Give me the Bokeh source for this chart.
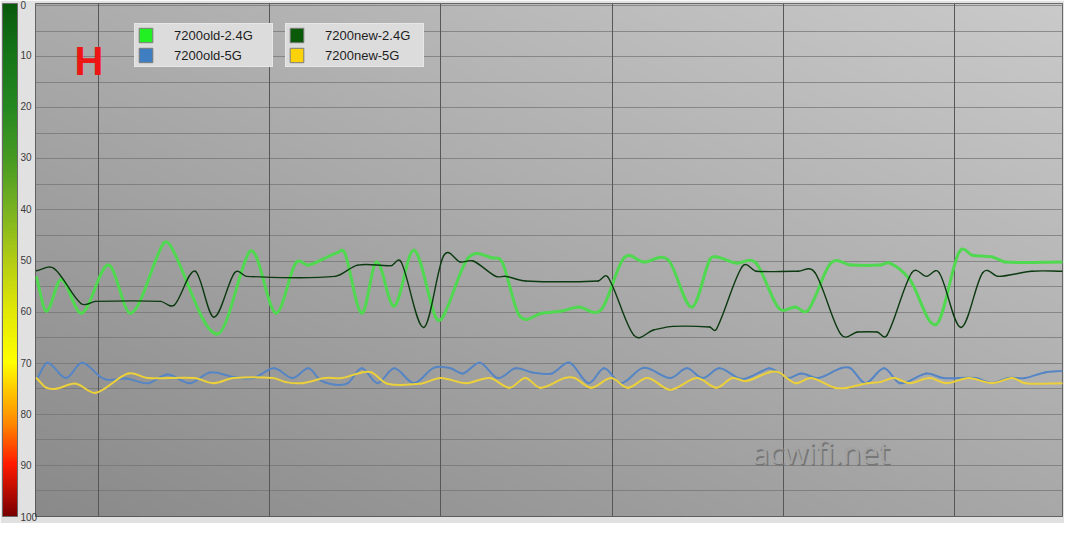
import numpy as np
from bokeh.plotting import figure
from bokeh.models import (Range1d, Grid, FixedTicker, ColorBar, LinearColorMapper,
                          Legend, LegendItem, ColumnDataSource, Label)
from bokeh.embed import file_html
from bokeh.resources import INLINE

# ---------------- data (t = sample position, level: 0 = top, 100 = bottom) ----------------
series_names = ["7200old-2.4G", "7200old-5G", "7200new-2.4G", "7200new-5G"]

old24_t = [1, 11, 26, 47, 74, 97, 129, 137, 184, 216, 224, 244, 264, 277, 307, 314, 331, 346, 364, 384,
           406, 414, 439, 464, 474, 491, 514, 534, 551, 574, 597, 617, 642, 666, 684, 691, 711, 731, 754, 771,
           784, 807, 827, 857, 867, 887, 914, 937, 951, 971, 984, 1042]
old24_v = [53.2, 59.8, 53.6, 60.2, 50.8, 60.2, 46.8, 47.0, 64.3, 48.5, 49.2, 60.2, 50.4, 50.8, 48.3, 48.5, 60.2, 50.2, 58.8, 47.9,
           61.0, 60.7, 49.4, 49.4, 50.4, 60.7, 60.2, 59.8, 59.0, 59.5, 49.4, 50.2, 49.8, 59.0, 49.8, 49.2, 50.4, 50.4, 59.2, 59.0,
           59.6, 50.4, 50.8, 50.8, 50.4, 53.6, 62.4, 48.3, 48.9, 49.2, 50.2, 50.2]

new24_t = [1, 19, 46, 61, 127, 141, 162, 181, 202, 214, 304, 327, 361, 371, 394, 414, 431, 444, 467, 477,
           497, 571, 581, 607, 627, 647, 684, 691, 717, 731, 774, 791, 817, 834, 854, 864, 889, 904, 917, 939,
           961, 977, 1011, 1042]
new24_v = [51.9, 51.5, 58.3, 57.9, 57.9, 58.6, 52.0, 61.0, 52.3, 53.0, 53.0, 50.8, 50.9, 50.2, 63.0, 49.0, 50.2, 50.0, 53.0, 53.0,
           53.9, 53.9, 53.2, 64.5, 63.5, 62.8, 62.9, 63.3, 51.1, 52.0, 52.0, 52.3, 64.3, 63.9, 63.9, 64.5, 52.3, 53.0, 52.3, 63.0,
           52.3, 53.0, 52.0, 52.0]

old5_t = [2, 12, 31, 47, 66, 74, 92, 114, 134, 157, 177, 201, 221, 242, 261, 277, 289, 304, 317, 331,
          347, 364, 384, 404, 421, 434, 451, 469, 487, 504, 524, 542, 561, 577, 594, 617, 644, 661, 677, 694,
          717, 744, 751, 764, 777, 794, 817, 827, 842, 861, 877, 904, 921, 954, 971, 987, 1004, 1024, 1042]
old5_v = [72.9, 69.9, 72.9, 69.9, 72.7, 73.3, 73.0, 73.9, 72.2, 73.9, 71.8, 72.7, 72.9, 71.0, 72.9, 71.0, 73.3, 74.2, 73.9, 71.0,
          73.9, 71.0, 73.9, 70.9, 71.0, 72.0, 69.9, 72.9, 71.0, 71.8, 72.0, 69.9, 73.9, 71.0, 73.9, 70.9, 72.9, 71.0, 72.9, 71.0,
          73.1, 71.0, 71.5, 72.9, 72.0, 72.9, 71.0, 71.0, 73.9, 71.0, 73.9, 72.0, 72.9, 72.9, 73.9, 72.9, 72.9, 71.8, 71.5]

new5_t = [1, 11, 21, 41, 61, 94, 114, 161, 181, 201, 241, 254, 271, 294, 311, 331, 341, 357, 391, 411,
          437, 461, 481, 497, 512, 537, 547, 564, 584, 601, 621, 644, 671, 691, 707, 721, 744, 754, 771, 787,
          811, 824, 844, 857, 871, 887, 907, 924, 947, 971, 991, 1004, 1042]
new5_v = [72.9, 74.8, 75.0, 74.0, 75.8, 72.0, 72.9, 72.9, 73.9, 72.9, 72.9, 73.7, 73.9, 72.9, 72.9, 71.8, 71.8, 74.0, 74.0, 72.9,
          73.9, 72.9, 74.8, 72.9, 74.8, 72.9, 72.9, 74.8, 72.9, 74.8, 72.9, 75.2, 72.9, 74.8, 72.9, 73.5, 71.8, 71.8, 73.9, 72.9,
          74.8, 74.8, 73.9, 73.7, 72.9, 73.9, 72.9, 73.9, 72.9, 73.9, 72.9, 73.9, 73.9]

level_ticks = [0, 10, 20, 30, 40, 50, 60, 70, 80, 90, 100]
vertical_grid_t = [64, 237, 411, 585, 759, 932]

# --------------- styles ---------------
line_colors = {"7200old-2.4G": "#50d850", "7200old-5G": "#5585c4",
               "7200new-2.4G": "#0c3a10", "7200new-5G": "#ecd03a"}
line_widths = {"7200old-2.4G": 3.0, "7200old-5G": 2.0, "7200new-2.4G": 1.4, "7200new-5G": 2.0}
swatch_colors = {"7200old-2.4G": "#22f022", "7200old-5G": "#3f7ec0",
                 "7200new-2.4G": "#0a5a0a", "7200new-5G": "#fcd20a"}

# colour scale of the left bar (label value -> colour)
scale_stops = [(0, (10, 90, 12)), (10, (22, 118, 24)), (20, (36, 136, 32)), (30, (70, 154, 34)),
               (40, (120, 178, 34)), (50, (178, 204, 20)), (60, (226, 232, 6)), (70, (255, 255, 0)),
               (76, (255, 196, 0)), (82, (255, 136, 0)), (90, (255, 26, 0)), (100, (122, 0, 0))]

W, H = 1064, 523
BL, BR, BT, BB = 35, 2, 3, 7
FH = H - BT - BB
p = figure(width=W, height=H, output_backend="svg", toolbar_location=None,
           x_range=Range1d(0, 1042), y_range=Range1d(100, -0.4),
           x_axis_location=None, y_axis_location=None,
           min_border_left=BL, min_border_right=BR, min_border_top=BT, min_border_bottom=BB)
p.grid.visible = False
p.border_fill_color = "#e1e1e1"
p.background_fill_color = "#a8a8a8"
p.outline_line_color = "#4a4a4a"

# background gradient of the plotting area
rows, cols = 140, 280
fy = np.linspace(0, 1, rows)[:, None]
fx = np.linspace(0, 1, cols)[None, :]
g = np.clip(172 + 30 * fx - 34 * fy, 0, 255).astype(np.uint32)
img = (255 << 24) | (g << 16) | (g << 8) | g
p.image_rgba(image=[img.astype(np.uint32)], x=0, y=-0.4, dw=1042, dh=100.4, level="image")

# grids
p.add_layout(Grid(dimension=1, ticker=FixedTicker(ticks=list(range(0, 101, 5))),
                  grid_line_color="#727272", grid_line_alpha=0.7, grid_line_width=1))
p.add_layout(Grid(dimension=0, ticker=FixedTicker(ticks=vertical_grid_t),
                  grid_line_color="#575757", grid_line_width=1))


def spline_source(t, v):
    t = np.asarray(t, float)
    v = np.asarray(v, float)
    n = len(t)
    m = np.zeros(n)
    m[1:-1] = (v[2:] - v[:-2]) / (t[2:] - t[:-2])
    m[0] = (v[1] - v[0]) / (t[1] - t[0])
    m[-1] = (v[-1] - v[-2]) / (t[-1] - t[-2])
    h = t[1:] - t[:-1]
    return ColumnDataSource(dict(
        x0=t[:-1], y0=v[:-1], x1=t[1:], y1=v[1:],
        cx0=t[:-1] + h / 3, cy0=v[:-1] + m[:-1] * h / 3,
        cx1=t[1:] - h / 3, cy1=v[1:] - m[1:] * h / 3))


data = {"7200old-2.4G": (old24_t, old24_v), "7200new-2.4G": (new24_t, new24_v),
        "7200old-5G": (old5_t, old5_v), "7200new-5G": (new5_t, new5_v)}
for name in ["7200old-2.4G", "7200new-2.4G", "7200old-5G", "7200new-5G"]:
    t, v = data[name]
    p.bezier(x0="x0", y0="y0", x1="x1", y1="y1", cx0="cx0", cy0="cy0", cx1="cx1", cy1="cy1",
             source=spline_source(t, v), line_color=line_colors[name],
             line_width=line_widths[name], line_cap="round")

# legend swatches (hidden renderers, only their legend glyph is shown)
swatch = {}
for name in series_names:
    t, v = data[name]
    swatch[name] = p.rect(x=[t[0]], y=[v[0]], width=1, height=1, fill_color=swatch_colors[name],
                          line_color="#7a7a7a", line_width=1, visible=False)


def make_legend(names, loc):
    lg = Legend(items=[LegendItem(label=n, renderers=[swatch[n]]) for n in names],
                location=loc, orientation="vertical",
                background_fill_color="#dcdcdc", background_fill_alpha=1.0,
                border_line_color="#f2f2f2", border_line_width=1,
                padding=2, spacing=2, margin=0,
                glyph_width=17, glyph_height=18, label_height=18, label_width=96,
                label_standoff=20, label_text_font="Liberation Sans",
                label_text_font_size="13px", label_text_color="#1e1e1e")
    p.add_layout(lg, "center")


make_legend(["7200old-2.4G", "7200old-5G"], (99, FH - 22 - 42))
make_legend(["7200new-2.4G", "7200new-5G"], (250, FH - 22 - 42))

# "H" marker and watermark
p.add_layout(Label(x=39.5, y=10.9, text="H", text_font="Liberation Sans", text_font_style="bold",
                   text_font_size="40px", text_color="#ee1515", text_baseline="alphabetic"))
p.add_layout(Label(x=728.5, y=87.8, text="acwifi.net", text_font="Open Sans",
                   text_font_size="31px", text_color="#777777", text_baseline="alphabetic"))
p.add_layout(Label(x=727, y=87.4, text="acwifi.net", text_font="Open Sans",
                   text_font_size="31px", text_color="#a2a2a2", text_baseline="alphabetic"))

# colour scale bar with level labels (0 at top)
def mix(a, b, f):
    return tuple(int(round(a[k] + (b[k] - a[k]) * f)) for k in range(3))

palette = []
for i in range(201):
    lv = 100 - i * 0.5  # low end of the mapper = level 100
    for (l0, c0), (l1, c1) in zip(scale_stops[:-1], scale_stops[1:]):
        if l0 <= lv <= l1:
            c = mix(c0, c1, (lv - l0) / (l1 - l0))
            break
    palette.append("#%02x%02x%02x" % c)

mapper = LinearColorMapper(palette=palette, low=0, high=100)
cb = ColorBar(color_mapper=mapper, orientation="vertical", width=15, height=FH,
              location=(-33, 0), padding=0, margin=0, label_standoff=3,
              ticker=FixedTicker(ticks=level_ticks),
              major_label_overrides={100 - t: str(t) for t in level_ticks},
              major_label_text_font="Liberation Sans", major_label_text_font_size="10px",
              major_label_text_color="#3a3a3a",
              major_tick_line_color=None, minor_tick_line_color=None,
              bar_line_color="#6a6a6a", border_line_color=None,
              background_fill_color="#e1e1e1", background_fill_alpha=0.0)
p.add_layout(cb, "center")

open("out.html", "w").write(file_html(p, INLINE))
